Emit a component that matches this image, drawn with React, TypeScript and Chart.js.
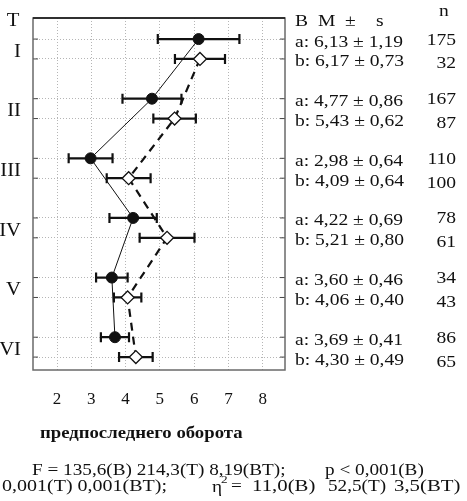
import React, { useEffect, useRef } from "react";
import { Chart, registerables } from "chart.js";

Chart.register(...registerables);

const groups = ["I", "II", "III", "IV", "V", "VI"];
const meanA = [6.13, 4.77, 2.98, 4.22, 3.6, 3.69];
const sdA = [1.19, 0.86, 0.64, 0.69, 0.46, 0.41];
const nA = [175, 167, 110, 78, 34, 86];
const meanB = [6.17, 5.43, 4.09, 5.21, 4.06, 4.3];
const sdB = [0.73, 0.62, 0.64, 0.8, 0.4, 0.49];
const nB = [32, 87, 100, 61, 43, 65];
const xTicks = [2, 3, 4, 5, 6, 7, 8];

const fmt = (v: number) => v.toFixed(2).replace(".", ",");
const rowA = (i: number) => i * 3 + 1;
const rowB = (i: number) => i * 3 + 2;

const SERIF = "'Liberation Serif', 'Times New Roman', serif";

function stretchText(ctx: CanvasRenderingContext2D, text: string, x: number, y: number, sx: number) {
  ctx.save();
  ctx.translate(x, y);
  ctx.scale(sx, 1);
  ctx.fillText(text, 0, 0);
  ctx.restore();
}

export default function App() {
  const ref = useRef<HTMLCanvasElement>(null);
  useEffect(() => {
    const canvas = ref.current!;
    const errorBars = {
      id: "errorBars",
      beforeDatasetsDraw(chart: any) {
        const ctx = chart.ctx;
        const xs = chart.scales.x;
        const ys = chart.scales.y;
        const area = chart.chartArea;
        ctx.save();
        ctx.lineWidth = 1;
        ctx.strokeStyle = "#444";
        for (let i = 0; i < groups.length; i++) {
          [rowA(i), rowB(i)].forEach((r) => {
            const y = ys.getPixelForValue(r);
            ctx.beginPath();
            ctx.moveTo(area.right - 5, y);
            ctx.lineTo(area.right, y);
            ctx.moveTo(area.left, y);
            ctx.lineTo(area.left + 5, y);
            ctx.stroke();
          });
        }
        ctx.strokeStyle = "#111";
        ctx.lineWidth = 2.2;
        const draw = (m: number, s: number, r: number) => {
          const y = ys.getPixelForValue(r);
          const x1 = xs.getPixelForValue(m - s);
          const x2 = xs.getPixelForValue(m + s);
          ctx.beginPath();
          ctx.moveTo(x1, y);
          ctx.lineTo(x2, y);
          ctx.moveTo(x1, y - 5);
          ctx.lineTo(x1, y + 5);
          ctx.moveTo(x2, y - 5);
          ctx.lineTo(x2, y + 5);
          ctx.stroke();
        };
        meanA.forEach((m, i) => draw(m, sdA[i], rowA(i)));
        meanB.forEach((m, i) => draw(m, sdB[i], rowB(i)));
        ctx.restore();
      },
    };
    const texts = {
      id: "texts",
      afterDraw(chart: any) {
        const ctx = chart.ctx;
        const ys = chart.scales.y;
        const area = chart.chartArea;
        ctx.save();
        ctx.strokeStyle = "#6a6a6a";
        ctx.lineWidth = 1.5;
        ctx.strokeRect(area.left, area.top, area.right - area.left, area.bottom - area.top);
        ctx.strokeStyle = "#111";
        ctx.beginPath();
        ctx.moveTo(area.left, area.top);
        ctx.lineTo(area.right, area.top);
        ctx.stroke();
        ctx.fillStyle = "#111";
        ctx.textBaseline = "middle";
        ctx.font = `18px ${SERIF}`;
        ctx.textAlign = "center";
        stretchText(ctx, "T", 13, 21, 1.15);
        ctx.textAlign = "right";
        groups.forEach((g, i) => {
          const y = (ys.getPixelForValue(rowA(i)) + ys.getPixelForValue(rowB(i))) / 2 + 3;
          stretchText(ctx, g, 21, y, 1.15);
        });
        const SX = 1.15;
        ctx.font = `17px ${SERIF}`;
        ctx.textAlign = "left";
        stretchText(ctx, "B", 295, 22, SX);
        stretchText(ctx, "M", 318, 22, SX);
        stretchText(ctx, "±", 345, 22, SX);
        stretchText(ctx, "s", 376, 22, SX);
        ctx.textAlign = "center";
        stretchText(ctx, "n", 444, 12, SX);
        for (let i = 0; i < groups.length; i++) {
          const ya = ys.getPixelForValue(rowA(i));
          const yb = ys.getPixelForValue(rowB(i));
          ctx.textAlign = "left";
          stretchText(ctx, `a: ${fmt(meanA[i])} ± ${fmt(sdA[i])}`, 295, ya + 3, SX);
          stretchText(ctx, `b: ${fmt(meanB[i])} ± ${fmt(sdB[i])}`, 295, yb + 3, SX);
          ctx.textAlign = "right";
          stretchText(ctx, String(nA[i]), 456, ya + 1, SX);
          stretchText(ctx, String(nB[i]), 456, yb + 5, SX);
        }
        const BX = 1.2;
        ctx.textAlign = "left";
        ctx.font = `bold 16px ${SERIF}`;
        stretchText(ctx, "предпоследнего оборота", 40, 434, 1.17);
        ctx.font = `16px ${SERIF}`;
        stretchText(ctx, "F = 135,6(B) 214,3(T) 8,19(BT);", 32, 471, BX);
        stretchText(ctx, "p < 0,001(B)", 325, 471, BX);
        stretchText(ctx, "0,001(T) 0,001(BT);", 2, 487, 1.25);
        stretchText(ctx, "η", 212, 488, BX);
        ctx.font = `11px ${SERIF}`;
        stretchText(ctx, "2", 221, 480, BX);
        ctx.font = `16px ${SERIF}`;
        stretchText(ctx, "=", 231, 487, BX);
        stretchText(ctx, "11,0(B)", 252, 487, 1.3);
        stretchText(ctx, "52,5(T)", 328, 487, BX);
        stretchText(ctx, "3,5(BT)", 394, 487, 1.3);
        ctx.restore();
      },
    };
    const chart = new Chart(canvas, {
      type: "scatter",
      data: {
        datasets: [
          {
            data: meanA.map((m, i) => ({ x: m, y: rowA(i) })),
            showLine: true,
            borderColor: "#111",
            borderWidth: 1,
            pointStyle: "circle",
            pointRadius: 5.5,
            pointBackgroundColor: "#111",
            pointBorderColor: "#111",
            pointBorderWidth: 1,
          },
          {
            data: meanB.map((m, i) => ({ x: m, y: rowB(i) })),
            showLine: true,
            borderColor: "#111",
            borderWidth: 2.2,
            borderDash: [8, 6],
            pointStyle: "rectRot",
            pointRadius: 6.5,
            pointBackgroundColor: "#fff",
            pointBorderColor: "#111",
            pointBorderWidth: 1.3,
          },
        ],
      },
      options: {
        responsive: false,
        animation: false,
        layout: { padding: { left: 33, top: 18, right: 182, bottom: 91 } },
        plugins: { legend: { display: false }, tooltip: { enabled: false } },
        scales: {
          x: {
            type: "linear",
            min: 1.3,
            max: 8.65,
            afterBuildTicks: (s: any) => {
              s.ticks = xTicks.map((v) => ({ value: v }));
            },
            afterFit: (s: any) => {
              s.height = 40;
            },
            grid: { color: "#b5b5b5", lineWidth: 1, drawTicks: false },
            border: { display: false, dash: [1, 2] },
            ticks: {
              padding: 19,
              color: "#111",
              font: { family: SERIF, size: 17 },
              maxRotation: 0,
            },
          },
          y: {
            type: "linear",
            reverse: true,
            min: -0.06,
            max: 17.65,
            afterBuildTicks: (s: any) => {
              const t: any[] = [];
              groups.forEach((_, i) => {
                t.push({ value: rowA(i) });
                t.push({ value: rowB(i) });
              });
              s.ticks = t;
            },
            afterFit: (s: any) => {
              s.width = 0;
            },
            grid: { color: "#b5b5b5", lineWidth: 1, drawTicks: false },
            border: { display: false, dash: [1, 2] },
            ticks: { display: false },
          },
        },
      },
      plugins: [errorBars, texts],
    });
    return () => chart.destroy();
  }, []);
  return (
    <div style={{ position: "fixed", left: 0, top: 0, width: 467, height: 501, background: "#fff" }}>
      <canvas ref={ref} width={467} height={501} style={{ width: 467, height: 501 }} />
    </div>
  );
}
